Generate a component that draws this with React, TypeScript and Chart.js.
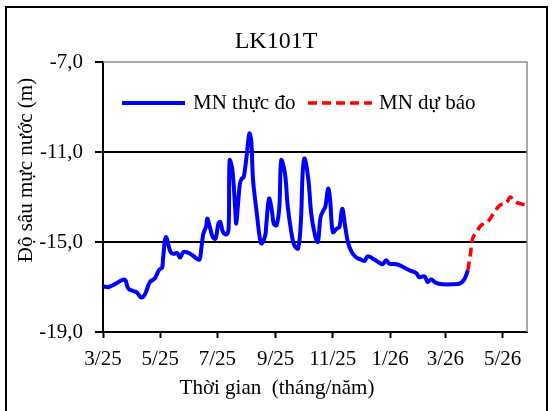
import React, { useEffect, useRef } from 'react';
import { Chart, registerables } from 'chart.js';

Chart.register(...registerables);

const TITLE = 'LK101T';
const Y_TITLE = 'Độ sâu mực nước (m)';
const X_TITLE = 'Thời gian  (tháng/năm)';
const SERIES_OBS = 'MN thực đo';
const SERIES_FC = 'MN dự báo';

// x = days since 1 March 2025
const obsDays = [0, 6, 20, 22, 24, 27, 32, 36, 41, 45, 50, 55, 57, 60, 63, 64, 67, 72, 75, 79, 82, 86, 93, 100, 103, 105, 107, 110, 111, 113, 117, 120, 123, 125, 128, 132, 134, 135, 138, 141, 142, 144, 146, 148, 150, 153, 156, 158, 160, 164, 167, 169, 173, 174, 177, 180, 182, 185, 188, 190, 194, 197, 201, 204, 208, 211, 213, 215, 219, 222, 226, 229, 232, 235, 237, 240, 242, 245, 249, 252, 255, 258, 261, 265, 270, 275, 279, 282, 288, 295, 298, 302, 305, 313, 320, 327, 334, 337, 343, 346, 350, 355, 362, 373, 380, 385, 389];
const obsValues = [-16.97, -17.0, -16.7, -16.67, -16.7, -17.07, -17.18, -17.24, -17.47, -17.3, -16.78, -16.63, -16.48, -16.23, -16.14, -15.74, -14.78, -15.44, -15.52, -15.49, -15.69, -15.44, -15.52, -15.74, -15.78, -15.22, -14.63, -14.3, -13.96, -14.18, -14.78, -14.85, -14.18, -14.11, -14.56, -14.66, -14.33, -11.37, -11.81, -13.59, -14.18, -13.29, -12.4, -12.18, -12.11, -11.22, -10.18, -10.48, -12.26, -13.74, -14.78, -15.07, -14.7, -14.26, -13.07, -13.59, -14.18, -14.26, -13.44, -11.37, -11.96, -13.44, -14.63, -15.15, -15.29, -14.04, -11.81, -11.29, -12.26, -13.74, -14.7, -15.0, -13.89, -13.59, -13.44, -12.63, -13.07, -14.56, -14.41, -14.33, -13.52, -14.26, -15.0, -15.44, -15.69, -15.78, -15.84, -15.64, -15.74, -15.93, -15.99, -15.81, -15.96, -15.99, -16.11, -16.26, -16.38, -16.56, -16.53, -16.78, -16.67, -16.82, -16.88, -16.88, -16.85, -16.67, -16.26];

const fcDays = [389, 392, 394, 398, 403, 410, 415, 423, 430, 434, 440, 447, 452];
const fcValues = [-16.26, -15.44, -14.85, -14.56, -14.26, -14.11, -13.81, -13.37, -13.27, -13.0, -13.22, -13.32, -13.37];

const xTickDays = [0, 61, 122, 184, 245, 306, 365, 426];
const xTickLabels = ['3/25', '5/25', '7/25', '9/25', '11/25', '1/26', '3/26', '5/26'];
const yTickValues = [-19, -15, -11, -7];

const FONT = '"Liberation Serif", "Times New Roman", serif';

const decor = {
  id: 'decor',
  afterDraw(chart: any) {
    const { ctx, chartArea } = chart;
    const { left, right, top, bottom } = chartArea;
    ctx.save();
    // gray top/right plot border
    ctx.strokeStyle = '#8c8c8c';
    ctx.lineWidth = 1.5;
    ctx.beginPath();
    ctx.moveTo(left, top);
    ctx.lineTo(right, top);
    ctx.lineTo(right, bottom);
    ctx.stroke();
    // outer frame
    ctx.strokeStyle = '#000';
    ctx.lineWidth = 2;
    ctx.beginPath();
    ctx.moveTo(6, 430);
    ctx.lineTo(6, 7);
    ctx.lineTo(547, 7);
    ctx.lineTo(547, 430);
    ctx.stroke();
    // title
    ctx.fillStyle = '#000';
    ctx.textAlign = 'center';
    ctx.textBaseline = 'middle';
    ctx.font = `24px ${FONT}`;
    ctx.fillText(TITLE, 276, 42);
    // x title
    ctx.font = `21px ${FONT}`;
    ctx.fillText(X_TITLE, 277, 388);
    // y title
    ctx.save();
    ctx.translate(26, 170);
    ctx.rotate(-Math.PI / 2);
    ctx.fillText(Y_TITLE, 0, 0);
    ctx.restore();
    // legend
    const ly = 103;
    ctx.lineWidth = 4;
    ctx.strokeStyle = '#0000ff';
    ctx.beginPath();
    ctx.moveTo(122, ly);
    ctx.lineTo(185, ly);
    ctx.stroke();
    ctx.strokeStyle = '#ff0000';
    ctx.lineWidth = 3.5;
    ctx.setLineDash([9, 5]);
    ctx.beginPath();
    ctx.moveTo(308, ly);
    ctx.lineTo(372, ly);
    ctx.stroke();
    ctx.setLineDash([]);
    ctx.textAlign = 'left';
    ctx.font = `21px ${FONT}`;
    ctx.fillText(SERIES_OBS, 193, ly);
    ctx.fillText(SERIES_FC, 379, ly);
    ctx.restore();
  },
};

export default function App() {
  const ref = useRef<HTMLCanvasElement>(null);
  useEffect(() => {
    if (!ref.current) return;
    const chart = new Chart(ref.current, {
      type: 'line',
      data: {
        datasets: [
          {
            label: SERIES_OBS,
            data: obsDays.map((d, i) => ({ x: d, y: obsValues[i] })),
            borderColor: '#0000ff',
            borderWidth: 4,
            pointRadius: 0,
            tension: 0.35,
            fill: false,
          },
          {
            label: SERIES_FC,
            data: fcDays.map((d, i) => ({ x: d, y: fcValues[i] })),
            borderColor: '#ff0000',
            borderWidth: 3.5,
            borderDash: [9, 5],
            pointRadius: 0,
            tension: 0.35,
            fill: false,
          },
        ],
      },
      options: {
        responsive: false,
        animation: false,
        devicePixelRatio: 1,
        layout: { padding: { left: 0, top: 62, right: 25, bottom: 0 } },
        plugins: { legend: { display: false }, title: { display: false }, tooltip: { enabled: false } },
        scales: {
          x: {
            type: 'linear',
            min: 0,
            max: 452,
            afterBuildTicks: (s: any) => {
              s.ticks = xTickDays.map((v) => ({ value: v }));
            },
            afterFit: (s: any) => {
              s.height = 79;
            },
            ticks: {
              autoSkip: false,
              maxRotation: 0,
              minRotation: 0,
              padding: 9,
              color: '#000',
              font: { family: FONT, size: 21 },
              callback: (v: any) => {
                const i = xTickDays.indexOf(Number(v));
                return i >= 0 ? xTickLabels[i] : '';
              },
            },
            grid: { drawOnChartArea: false, drawTicks: true, tickLength: 6, tickColor: '#000', tickWidth: 2 },
            border: { color: '#000', width: 2 },
          },
          y: {
            type: 'linear',
            min: -19,
            max: -7,
            afterBuildTicks: (s: any) => {
              s.ticks = yTickValues.map((v) => ({ value: v }));
            },
            afterFit: (s: any) => {
              s.width = 103;
            },
            ticks: {
              padding: 12,
              color: '#000',
              font: { family: FONT, size: 21 },
              callback: (v: any) => Number(v).toFixed(1).replace('.', ','),
            },
            grid: {
              drawTicks: true,
              tickLength: 8,
              tickColor: '#000',
              tickWidth: 2,
              lineWidth: 2,
              color: (c: any) => (c.tick && (c.tick.value === -11 || c.tick.value === -15) ? '#000' : 'rgba(0,0,0,0)'),
            },
            border: { color: '#000', width: 2 },
          },
        },
      },
      plugins: [decor],
    });
    return () => chart.destroy();
  }, []);
  return (
    <div style={{ position: 'fixed', left: 0, top: 0, width: 552, height: 411, background: '#fff' }}>
      <canvas ref={ref} width={552} height={411} style={{ display: 'block', width: 552, height: 411 }} />
    </div>
  );
}
